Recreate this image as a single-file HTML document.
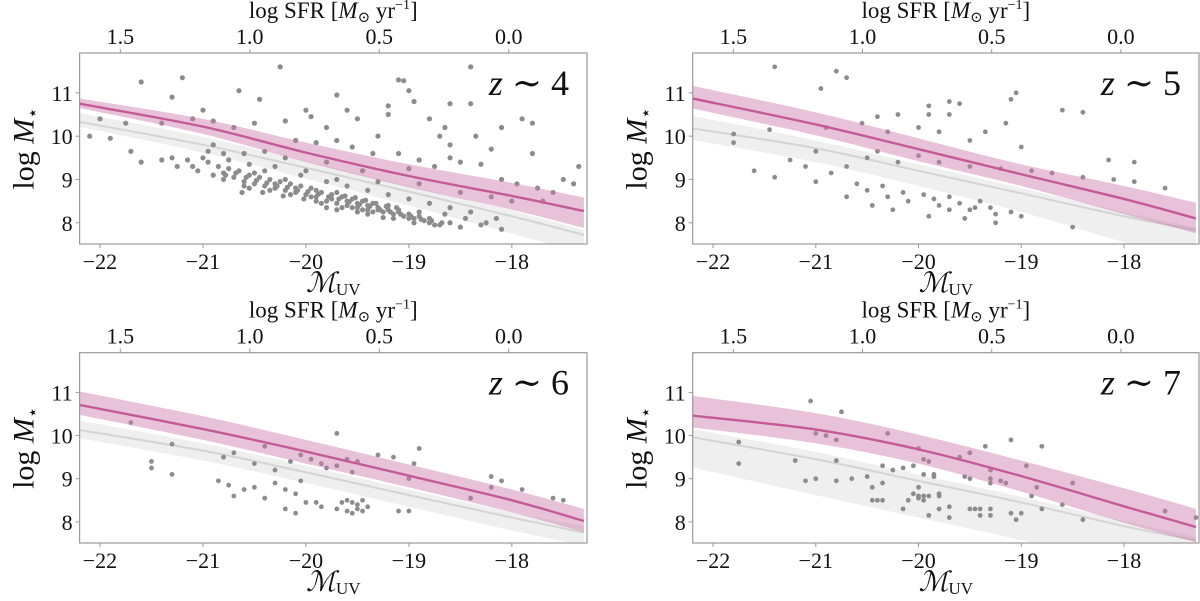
<!DOCTYPE html>
<html><head><meta charset="utf-8"><style>
html,body{margin:0;padding:0;background:#fff;}
svg text{font-family:"Liberation Serif","DejaVu Serif",serif;fill:#111;}
</style></head><body>
<svg id="fig" xmlns="http://www.w3.org/2000/svg" width="1200" height="596" viewBox="0 0 1200 596"></svg>
<script>
// ---- shared data ----
const knots = [-22.2, -21, -20, -19, -18, -17.3];
const xTicks = [-22, -21, -20, -19, -18];
const xTickLabels = ["\u221222", "\u221221", "\u221220", "\u221219", "\u221218"];
const yTicks = [8, 9, 10, 11];
const sfrTicks = [1.5, 1.0, 0.5, 0.0];
const sfrTickLabels = ["1.5", "1.0", "0.5", "0.0"];
const zLabels = ["4", "5", "6", "7"];

const pinkMed1 = [10.75,10.22,9.62,9.08,8.62,8.27];
const pinkHi1  = [10.87,10.40,9.85,9.35,8.92,8.58];
const pinkLo1  = [10.65,10.05,9.40,8.82,8.30,7.88];
const grayMed1 = [10.33,9.80,9.27,8.72,8.15,7.72];
const grayHi1  = [10.54,9.98,9.42,8.85,8.28,7.83];
const grayLo1  = [10.22,9.62,9.02,8.40,7.75,7.30];

const pinkMed2 = [10.87,10.27,9.70,9.12,8.55,8.10];
const pinkHi2  = [11.16,10.55,9.95,9.35,8.85,8.46];
const pinkLo2  = [10.64,10.02,9.42,8.85,8.20,7.76];
const grayMed2 = [10.18,9.72,9.20,8.68,8.15,7.83];
const grayHi2  = [10.47,9.90,9.35,8.80,8.25,7.90];
const grayLo2  = [9.91,9.40,8.85,8.25,7.55,7.10];

const pinkMed3 = [10.71,10.15,9.63,9.07,8.50,8.02];
const pinkHi3  = [11.02,10.45,9.90,9.33,8.75,8.30];
const pinkLo3  = [10.48,9.90,9.35,8.80,8.22,7.76];
const grayMed3 = [10.13,9.65,9.15,8.62,8.10,7.75];
const grayHi3  = [10.35,9.82,9.30,8.75,8.22,7.90];
const grayLo3  = [9.94,9.42,8.90,8.35,7.80,7.45];

const pinkMed4 = [10.46,10.14,9.68,9.06,8.36,7.88];
const pinkHi4  = [10.92,10.52,10.02,9.42,8.78,8.30];
const pinkLo4  = [10.19,9.82,9.35,8.70,7.98,7.53];
const grayMed4 = [9.96,9.45,8.95,8.45,7.90,7.57];
const grayHi4  = [10.15,9.62,9.10,8.58,8.02,7.65];
const grayLo4  = [9.26,8.62,8.10,7.58,7.05,6.72];

// galaxies [M_UV, log M*]
const gal1 = [[-21.6,11.25],[-21.2,11.35],[-20.25,11.6],[-18.4,11.6],[-19.1,11.3],[-19.05,11.28],[-20.65,11.05],[-20.45,10.85],[-21.3,10.9],[-19.95,10.45],[-19.7,10.95],[-19.0,11.05],[-18.95,10.8],[-18.8,10.4],[-18.6,10.75],[-18.4,10.75],[-17.9,10.4],[-17.8,10.3],[-18.1,10.2],[-18.35,10.0],[-18.65,10.2],[-18.7,10.0],[-19.2,10.7],[-19.2,10.5],[-19.5,10.4],[-19.3,10.0],[-19.6,10.6],[-19.8,10.2],[-20.0,10.6],[-20.2,10.35],[-20.5,10.3],[-20.7,10.2],[-20.9,10.35],[-21.0,10.6],[-21.1,10.4],[-21.4,10.3],[-21.75,10.3],[-22.0,10.4],[-22.1,10.0],[-21.9,9.95],[-21.7,9.65],[-21.6,9.4],[-21.4,9.45],[-21.3,9.5],[-21.1,9.3],[-21.25,9.3],[-20.95,9.4],[-20.8,9.6],[-20.9,9.8],[-20.6,9.6],[-20.4,9.65],[-20.1,9.9],[-19.9,9.85],[-19.7,9.9],[-19.55,9.75],[-19.35,9.6],[-19.1,9.6],[-18.9,9.45],[-18.75,9.3],[-18.6,9.5],[-18.5,9.4],[-18.3,9.35],[-18.1,9.0],[-17.95,8.9],[-17.75,8.8],[-17.6,8.7],[-17.4,8.9],[-17.35,9.3],[-17.5,9.0],[-17.8,9.6],[-18.2,9.7],[-18.6,9.8],[-19.0,9.25],[-19.45,9.2],[-19.8,9.4],[-20.2,9.5],[-20.0,9.2],[-19.7,9.0],[-19.3,8.95],[-18.9,8.9],[-18.5,8.7],[-18.2,8.6],[-18.0,8.5],[-17.7,8.5],
[-20.85,9.3],[-20.8,9.15],[-20.75,9.25],[-20.7,9.05],[-20.65,9.2],[-20.6,8.95],[-20.55,9.1],[-20.5,8.9],[-20.45,9.05],[-20.4,8.85],[-20.35,9.0],[-20.3,8.8],[-20.25,8.95],[-20.2,8.75],[-20.15,8.9],[-20.1,8.7],[-20.05,8.85],[-20.0,8.65],[-19.95,8.8],[-19.9,8.6],[-19.85,8.7],[-19.8,8.5],[-19.75,8.65],[-19.7,8.45],[-19.65,8.6],[-19.6,8.4],[-19.55,8.55],[-19.5,8.35],[-19.45,8.5],[-19.4,8.3],[-19.35,8.45],[-19.3,8.35],[-19.25,8.25],[-19.2,8.3],[-19.15,8.2],[-19.1,8.25],[-19.05,8.15],[-19.0,8.2],[-18.95,8.1],[-18.9,8.15],[-18.85,8.05],[-18.8,8.1],[-18.7,7.95],[-18.6,8.0],[-18.5,7.9],[-18.3,7.95],[-18.1,7.85],
[-20.8,9.0],[-20.6,8.85],[-20.4,9.2],[-20.3,8.9],[-20.1,8.8],[-19.9,8.75],[-19.75,8.55],[-19.6,8.5],[-19.5,8.45],[-19.4,8.4],[-19.3,8.3],[-19.2,8.4],[-19.1,8.3],[-19.0,8.1],[-18.9,8.25],[-18.8,8.0],[-20.5,9.15],[-20.2,9.0],[-19.95,8.6],[-19.7,8.7],[-19.55,8.35],[-19.85,8.45],[-19.65,8.35],[-19.45,8.3],[-19.35,8.25],[-20.55,8.8],[-20.35,8.75],[-20.15,8.65],[-21.0,9.5],[-20.95,9.65],[-20.75,9.45],[-20.55,9.35],[-20.3,9.3],[-20.05,9.1],[-19.8,8.95],[-19.6,8.85],[-19.4,8.75],[-19.2,8.65],[-19.0,8.55],[-18.8,8.45],[-18.6,8.35],[-18.4,8.25],
[-20.78,9.1],[-20.68,9.15],[-20.58,9.05],[-20.48,8.98],[-20.38,8.92],[-20.28,8.85],[-20.18,8.82],[-20.08,8.75],[-19.98,8.72],[-19.88,8.66],[-19.78,8.6],[-19.68,8.55],[-19.58,8.48],[-19.48,8.42],[-19.38,8.38],[-19.28,8.3],[-19.18,8.25],[-19.08,8.2],[-18.98,8.15],[-18.88,8.08],[-18.78,8.05],[-18.68,8.0],[-19.62,8.62],[-19.52,8.58],[-19.42,8.52],[-19.32,8.45],[-19.22,8.38],[-19.12,8.35],[-19.8,8.35],[-19.7,8.3],[-19.5,8.25],[-19.4,8.2],[-19.25,8.12],[-19.15,8.1],[-18.95,8.0],[-18.75,7.95],[-20.62,8.7],[-20.42,8.7],[-20.22,8.62],[-20.02,8.55],[-19.9,8.5],[-18.65,8.2],[-18.45,8.1],[-18.25,8.0],[-18.15,8.1],[-21.05,9.2],[-21.15,9.45],[-20.9,9.1]];
const gal2 = [[-21.4,11.6],[-20.8,11.5],[-20.7,11.35],[-20.95,11.1],[-19.05,11.0],[-19.1,10.85],[-19.7,10.8],[-19.6,10.75],[-19.9,10.7],[-18.6,10.6],[-18.4,10.55],[-19.7,10.5],[-19.9,10.5],[-20.2,10.5],[-20.4,10.45],[-20.55,10.3],[-20.3,10.1],[-20.0,10.2],[-19.8,10.1],[-19.35,10.1],[-19.15,10.3],[-19.0,9.75],[-19.5,9.9],[-20.9,10.2],[-21.45,10.15],[-21.8,10.05],[-21.8,9.85],[-21.6,9.2],[-21.4,9.05],[-21.1,9.3],[-21.25,9.45],[-21.0,9.65],[-20.7,9.3],[-20.5,9.5],[-20.4,9.65],[-20.2,9.4],[-20.0,9.55],[-19.8,9.4],[-19.5,9.3],[-19.2,9.25],[-18.9,9.2],[-18.7,9.15],[-18.4,9.05],[-18.1,9.0],[-17.9,8.95],[-17.6,8.8],[-17.9,9.4],[-18.15,9.45],[-21.0,8.95],[-20.85,9.15],[-20.6,8.9],[-20.5,8.75],[-20.35,8.85],[-20.3,8.6],[-20.15,8.7],[-20.1,8.5],[-19.95,8.65],[-19.85,8.55],[-19.8,8.4],[-19.7,8.6],[-19.6,8.45],[-19.5,8.3],[-19.4,8.5],[-19.3,8.35],[-19.25,8.2],[-19.1,8.25],[-19.0,8.15],[-20.7,8.6],[-20.45,8.4],[-19.9,8.15],[-19.55,8.1],[-19.25,8.0],[-18.5,7.9],[-20.25,8.3],[-19.7,8.3],[-19.45,8.35]];
const gal3 = [[-19.7,10.05],[-18.9,9.7],[-19.3,9.55],[-19.15,9.5],[-19.5,9.4],[-18.95,9.35],[-19.0,9.0],[-17.9,8.75],[-18.2,9.05],[-18.2,8.8],[-18.4,8.55],[-18.1,8.95],[-17.6,8.55],[-17.5,8.5],[-21.7,10.3],[-21.3,9.8],[-21.5,9.4],[-21.3,9.1],[-21.5,9.25],[-20.8,9.5],[-20.4,9.75],[-20.7,9.6],[-20.5,9.35],[-20.3,9.2],[-20.15,9.4],[-20.05,9.55],[-19.95,9.45],[-19.85,9.35],[-19.8,9.25],[-19.7,9.3],[-19.6,9.45],[-19.55,9.15],[-20.85,8.95],[-20.75,8.85],[-20.5,8.8],[-20.3,8.9],[-20.2,8.75],[-20.1,8.65],[-20.05,8.95],[-20.4,8.55],[-20.2,8.3],[-20.0,8.45],[-19.9,8.45],[-19.85,8.35],[-20.1,8.2],[-19.7,8.3],[-19.6,8.25],[-19.6,8.5],[-19.55,8.45],[-19.5,8.4],[-19.5,8.3],[-19.45,8.5],[-19.4,8.35],[-19.55,8.2],[-19.45,8.25],[-19.1,8.25],[-19.0,8.25],[-19.65,8.45],[-20.7,8.6],[-20.6,8.75]];
const gal4 = [[-21.05,10.8],[-20.75,10.55],[-20.3,10.05],[-21.0,10.05],[-20.9,10.0],[-20.8,9.9],[-21.75,9.85],[-21.75,9.35],[-21.2,9.42],[-21.1,8.95],[-21.0,9.0],[-20.8,8.95],[-20.8,9.42],[-20.65,9.0],[-20.5,9.05],[-20.45,8.8],[-20.45,8.5],[-20.4,8.5],[-20.35,8.5],[-20.35,8.9],[-20.35,9.3],[-20.25,9.2],[-20.15,9.25],[-20.15,8.3],[-20.1,8.5],[-20.05,9.3],[-20.0,9.7],[-19.95,9.45],[-19.95,9.1],[-20.0,8.8],[-20.0,8.6],[-20.0,8.55],[-19.95,8.5],[-19.95,8.6],[-19.9,8.6],[-20.05,8.65],[-19.9,9.4],[-19.85,9.1],[-19.85,9.05],[-19.8,8.65],[-19.8,8.6],[-19.8,8.3],[-19.9,8.15],[-19.7,8.35],[-19.7,8.1],[-19.6,9.5],[-19.5,9.6],[-19.5,9.0],[-19.55,9.05],[-19.5,8.3],[-19.45,8.3],[-19.4,8.15],[-19.35,9.75],[-19.3,9.2],[-19.3,9.0],[-19.3,8.9],[-19.3,8.3],[-19.3,8.15],[-19.1,8.2],[-19.0,8.2],[-19.05,8.05],[-19.2,8.95],[-19.1,9.9],[-18.95,9.3],[-18.9,8.6],[-18.85,8.8],[-18.8,9.75],[-18.8,8.3],[-18.6,8.4],[-18.5,8.9],[-18.4,8.05],[-17.6,8.25],[-17.3,8.1],[-19.4,8.3],[-19.15,8.9]];

const panels = [
 {x0:79.6,y0:53,x1:587,y1:244, pm:pinkMed1,ph:pinkHi1,pl:pinkLo1,gm:grayMed1,gh:grayHi1,gl:grayLo1,pts:gal1,r:2.6},
 {x0:692.7,y0:53,x1:1199,y1:244, pm:pinkMed2,ph:pinkHi2,pl:pinkLo2,gm:grayMed2,gh:grayHi2,gl:grayLo2,pts:gal2,r:2.4},
 {x0:79.6,y0:352.7,x1:587,y1:543, pm:pinkMed3,ph:pinkHi3,pl:pinkLo3,gm:grayMed3,gh:grayHi3,gl:grayLo3,pts:gal3,r:2.4},
 {x0:692.7,y0:352.7,x1:1199,y1:543, pm:pinkMed4,ph:pinkHi4,pl:pinkLo4,gm:grayMed4,gh:grayHi4,gl:grayLo4,pts:gal4,r:2.4}
];
const XMIN=-22.198, XMAX=-17.27, YMIN=7.51, YMAX=11.92;
const svg=document.getElementById('fig');
const NS='http://www.w3.org/2000/svg';
function mk(tag,attrs,parent){const e=document.createElementNS(NS,tag);for(const k in attrs)e.setAttribute(k,attrs[k]);(parent||svg).appendChild(e);return e;}
function sfrToM(s){return -18.03 - s*2.515;}
function smoothPath(pts){
  // Catmull-Rom to cubic bezier
  let d='M'+pts[0][0]+','+pts[0][1];
  for(let i=0;i<pts.length-1;i++){
    const p0=pts[Math.max(0,i-1)],p1=pts[i],p2=pts[i+1],p3=pts[Math.min(pts.length-1,i+2)];
    const c1=[p1[0]+(p2[0]-p0[0])/6,p1[1]+(p2[1]-p0[1])/6];
    const c2=[p2[0]-(p3[0]-p1[0])/6,p2[1]-(p3[1]-p1[1])/6];
    d+=' C'+c1[0]+','+c1[1]+' '+c2[0]+','+c2[1]+' '+p2[0]+','+p2[1];
  }
  return d;
}

panels.forEach((p,i)=>{
  const sx=v=>p.x0+(v-XMIN)/(XMAX-XMIN)*(p.x1-p.x0);
  const sy=v=>p.y1-(v-YMIN)/(YMAX-YMIN)*(p.y1-p.y0);
  const g=mk('g',{});
  
  
  const cid='clip'+i;
  const cp=mk('clipPath',{id:cid},g);
  mk('rect',{x:p.x0,y:p.y0,width:p.x1-p.x0,height:p.y1-p.y0},cp);
  const plot=mk('g',{'clip-path':'url(#'+cid+')'},g);
  function band(hi,lo,fill,name){
    const top=knots.map((k,j)=>[sx(k),sy(hi[j])]);
    const bot=knots.map((k,j)=>[sx(k),sy(lo[j])]).reverse();
    let d=smoothPath(top)+' L'+smoothPath(bot).slice(1)+'Z';
    const e=mk('path',{d:d,fill:fill},plot);
    
    
  }
  function line(v,stroke,w,name){
    const e=mk('path',{d:smoothPath(knots.map((k,j)=>[sx(k),sy(v[j])])),fill:'none',stroke:stroke,'stroke-width':w},plot);
    
    
  }
  band(p.gh,p.gl,'#efefef','reference-band');
  line(p.gm,'#d4d4d4',2,'reference-line');
  p.pts.forEach(pt=>{
    const c=mk('circle',{cx:sx(pt[0]),cy:sy(pt[1]),r:p.r,fill:'#8c8c8c'},plot);
    
    
  });
  band(p.ph,p.pl,'rgba(205,120,170,0.45)','relation-band');
  line(p.pm,'#c45a98',2.4,'relation-line');
  const fr=mk('rect',{x:p.x0,y:p.y0,width:p.x1-p.x0,height:p.y1-p.y0,fill:'none',stroke:'#999','stroke-width':1.2},g);
  
  
  xTicks.forEach((t,j)=>{
    mk('line',{x1:sx(t),x2:sx(t),y1:p.y1,y2:p.y1+4,stroke:'#999'},g);
    const tx=mk('text',{x:sx(t),y:p.y1+25,'text-anchor':'middle','font-size':22},g);
    tx.textContent=xTickLabels[j];
    
    
  });
  yTicks.forEach(t=>{
    mk('line',{x1:p.x0-4,x2:p.x0,y1:sy(t),y2:sy(t),stroke:'#999'},g);
    const tx=mk('text',{x:p.x0-7,y:sy(t)+8,'text-anchor':'end','font-size':22},g);
    tx.textContent=String(t);
    
    
  });
  sfrTicks.forEach((s,j)=>{
    const X=sx(sfrToM(s));
    mk('line',{x1:X,x2:X,y1:p.y0-4,y2:p.y0,stroke:'#999'},g);
    const tx=mk('text',{x:X,y:p.y0-9,'text-anchor':'middle','font-size':22},g);
    tx.textContent=sfrTickLabels[j];
    
    
  });
  const cx=(p.x0+p.x1)/2;
  const xl=mk('text',{x:cx,y:p.y1+48,'text-anchor':'middle','font-size':28},g);
  xl.innerHTML='<tspan font-style="italic">\u2133</tspan><tspan font-size="17" dy="3">UV</tspan>';
  
  
  const tl=mk('text',{x:cx,y:p.y0-35,'text-anchor':'middle','font-size':23},g);
  tl.innerHTML='log SFR [<tspan font-style="italic">M</tspan><tspan font-size="15" dy="4">\u2299</tspan><tspan dy="-4"> yr</tspan><tspan font-size="14" dy="-9">\u22121</tspan><tspan dy="9">]</tspan>';
  
  
  const yl=mk('text',{x:0,y:0,'text-anchor':'middle','font-size':30,transform:'translate('+(p.x0-46)+','+((p.y0+p.y1)/2)+') rotate(-90)'},g);
  yl.innerHTML='log <tspan font-style="italic">M</tspan><tspan font-size="18" dy="5">\u22c6</tspan>';
  
  
  const zl=mk('text',{x:p.x1-18,y:p.y0+42,'text-anchor':'end','font-size':36},g);
  zl.innerHTML='<tspan font-style="italic">z</tspan> \u223c '+zLabels[i];
  
  
});
</script>
</body></html>
